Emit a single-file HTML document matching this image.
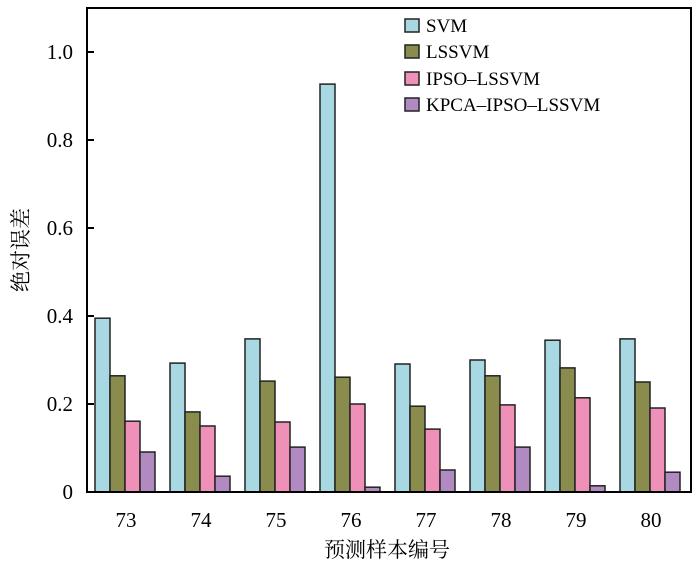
<!DOCTYPE html><html><head><meta charset="utf-8"><style>body{margin:0;background:#fff}</style></head><body>
<svg width="700" height="567" xmlns="http://www.w3.org/2000/svg" font-family="Liberation Serif, Noto Serif CJK SC, serif">
<g stroke="#222" stroke-width="1.5">
<g fill="#a8d8e2">
<rect x="95" y="318.2" width="15" height="173.8"/><rect x="170" y="363.1" width="15" height="128.9"/><rect x="245" y="338.9" width="15" height="153.1"/><rect x="320" y="84.1" width="15" height="407.9"/><rect x="395" y="364" width="15" height="128"/><rect x="470" y="360" width="15" height="132"/><rect x="545" y="340.2" width="15" height="151.8"/><rect x="620" y="338.9" width="15" height="153.1"/>
</g>
<g fill="#8a8c4e">
<rect x="110" y="375.8" width="15" height="116.2"/><rect x="185" y="411.9" width="15" height="80.1"/><rect x="260" y="381.1" width="15" height="110.9"/><rect x="335" y="377.2" width="15" height="114.8"/><rect x="410" y="406.2" width="15" height="85.8"/><rect x="485" y="375.8" width="15" height="116.2"/><rect x="560" y="367.9" width="15" height="124.1"/><rect x="635" y="382" width="15" height="110"/>
</g>
<g fill="#ee90b8">
<rect x="125" y="421.2" width="15" height="70.8"/><rect x="200" y="426" width="15" height="66"/><rect x="275" y="422" width="15" height="70"/><rect x="350" y="404" width="15" height="88"/><rect x="425" y="429.1" width="15" height="62.9"/><rect x="500" y="404.9" width="15" height="87.1"/><rect x="575" y="397.8" width="15" height="94.2"/><rect x="650" y="408" width="15" height="84"/>
</g>
<g fill="#b08ac0">
<rect x="140" y="452" width="15" height="40"/><rect x="215" y="476.2" width="15" height="15.8"/><rect x="290" y="447.1" width="15" height="44.9"/><rect x="365" y="487.2" width="15" height="4.8"/><rect x="440" y="470" width="15" height="22"/><rect x="515" y="447.1" width="15" height="44.9"/><rect x="590" y="485.8" width="15" height="6.2"/><rect x="665" y="472.2" width="15" height="19.8"/>
</g>
</g>
<rect x="87" y="8" width="604" height="484" fill="none" stroke="#000" stroke-width="2"/>
<g stroke="#000" stroke-width="2">
<line x1="87" y1="52" x2="94" y2="52"/><line x1="87" y1="140" x2="94" y2="140"/><line x1="87" y1="228" x2="94" y2="228"/><line x1="87" y1="316" x2="94" y2="316"/><line x1="87" y1="404" x2="94" y2="404"/>
</g>
<g font-size="21" text-anchor="end">
<text x="73" y="59">1.0</text><text x="73" y="147">0.8</text><text x="73" y="235">0.6</text><text x="73" y="323">0.4</text><text x="73" y="411">0.2</text><text x="73" y="499">0</text>
</g>
<g font-size="21" text-anchor="middle">
<text x="126" y="527">73</text><text x="201" y="527">74</text><text x="276" y="527">75</text><text x="351" y="527">76</text><text x="426" y="527">77</text><text x="501" y="527">78</text><text x="576" y="527">79</text><text x="651" y="527">80</text>
</g>
<text x="387" y="557" font-size="21" text-anchor="middle">预测样本编号</text>
<text transform="translate(28,250) rotate(-90)" font-size="21" text-anchor="middle">绝对误差</text>
<g stroke="#222" stroke-width="1.5">
<rect x="405" y="19" width="14" height="13" fill="#a8d8e2"/>
<rect x="405" y="45" width="14" height="13" fill="#8a8c4e"/>
<rect x="405" y="72" width="14" height="13" fill="#ee90b8"/>
<rect x="405" y="98" width="14" height="13" fill="#b08ac0"/>
</g>
<g font-size="19">
<text x="426" y="32">SVM</text><text x="426" y="58">LSSVM</text><text x="426" y="85">IPSO–LSSVM</text><text x="426" y="111">KPCA–IPSO–LSSVM</text>
</g>
</svg></body></html>
